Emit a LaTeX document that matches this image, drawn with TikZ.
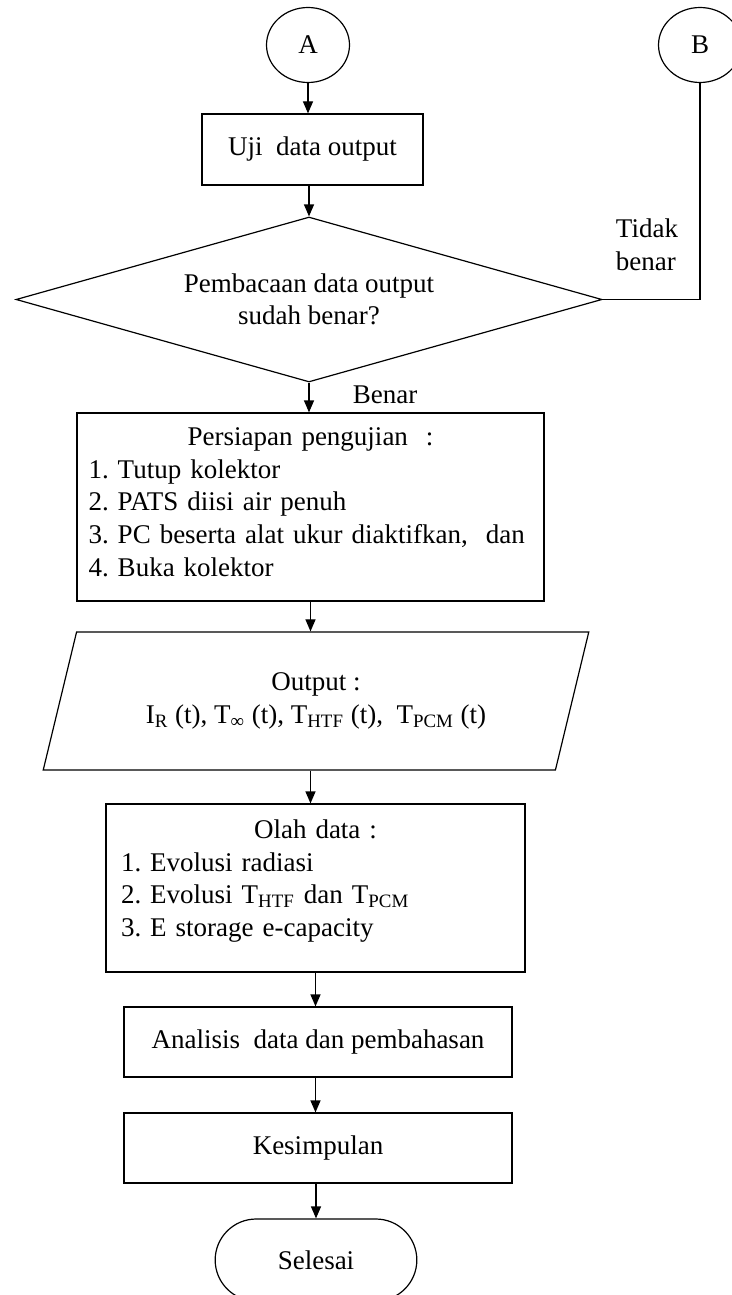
\documentclass[tikz,border=0pt]{standalone}
\usepackage{fontspec}
\setmainfont{Liberation Serif}
\usetikzlibrary{shapes.geometric,shapes.misc,arrows.meta}
\tikzset{proses/.style={draw,rectangle,line width=0.6pt,align=center},
konektor/.style={draw,ellipse,line width=0.6pt,minimum width=41.5pt,minimum height=37.5pt,inner sep=0pt},
panah/.style={-{Triangle[length=6pt,width=5pt]},line width=0.6pt},
garis/.style={line width=0.6pt}}
\frenchspacing

\begin{document}
\begin{tikzpicture}[x=0.5pt,y=-0.5pt,font=\fontsize{13.5}{16.3}\selectfont]
\useasboundingbox (0,0) rectangle (732,1295);

\node[konektor] (A) at (308,45) {A};
\node[konektor] (B) at (700,45) {B};
\node[proses,minimum width=110.5pt,minimum height=35.5pt] (uji) at (312.5,149.5) {Uji\ \ data output};
\node[draw,diamond,aspect=3.55,inner sep=0pt,minimum width=293pt,minimum height=82.5pt,
  align=center,line width=0.6pt] (cek) at (309,299.5) {Pembacaan data output\\sudah benar?};
\node[align=left] (tidak) at (647,245) {Tidak\\benar};
\node (benar) at (385,395) {Benar};

\node[proses,text width=222pt,inner xsep=5.75pt,minimum height=94pt,align=left] (siap) at (310.5,507)
  {\makebox[\hsize]{Persiapan pengujian\ \ :}\\
   1. Tutup kolektor\\
   2. PATS diisi air penuh\\
   3. PC beserta alat ukur diaktifkan,\ \ dan\\
   4. Buka kolektor\rule[-5pt]{0pt}{5pt}};

\node[draw,trapezium,trapezium left angle=70.5,trapezium right angle=109.5,trapezium stretches=true,
  minimum width=273pt,minimum height=69pt,align=center,line width=0.6pt] (keluaran) at (316,701)
  {Output :\\I\textsubscript{R} (t), T\textsubscript{∞} (t), T\textsubscript{HTF} (t),\ \ T\textsubscript{PCM} (t)};

\node[proses,text width=194.5pt,inner xsep=7.5pt,minimum height=84pt,align=left] (olah) at (315.5,888)
  {\makebox[\hsize]{Olah data :}\\
   1. Evolusi radiasi\\
   2. Evolusi T\textsubscript{HTF} dan T\textsubscript{PCM}\\
   3. E storage e-capacity\rule[-10pt]{0pt}{10pt}};

\node[proses,minimum width=194pt,minimum height=35pt] (analisis) at (318,1042) {Analisis\ \ data dan pembahasan};
\node[proses,minimum width=194pt,minimum height=35pt] (simpul) at (318,1148) {Kesimpulan};
\node[draw,rounded rectangle,line width=0.6pt,minimum width=107.5pt,minimum height=41pt] (selesai) at (316,1260) {Selesai};

\draw[panah] (A.south) -- (A.south |- uji.north);
\draw[panah] (cek.north |- uji.south) -- (cek.north);
\draw[garis] (B.south) |- (cek.east);
\draw[panah] (cek.south) -- (cek.south |- siap.north);
\draw[panah] (siap.south) -- (siap.south |- keluaran.north);
\draw[panah] (siap.south |- keluaran.south) -- (siap.south |- olah.north);
\draw[panah] (olah.south) -- (olah.south |- analisis.north);
\draw[panah] (olah.south |- analisis.south) -- (olah.south |- simpul.north);
\draw[panah] (selesai.north |- simpul.south) -- (selesai.north);
\end{tikzpicture}
\end{document}
